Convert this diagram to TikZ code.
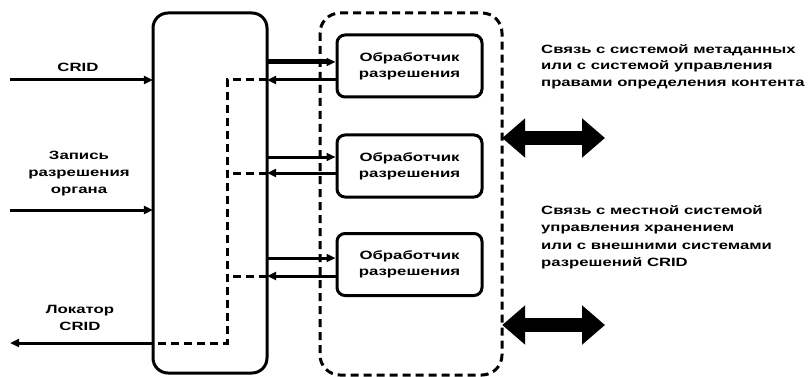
\documentclass[tikz,border=0pt]{standalone}
\usepackage{fontspec}
\setmainfont{Liberation Sans}[FakeStretch=1.4]
\newfontfamily\notefont{Liberation Sans}[FakeStretch=1.39]
\usetikzlibrary{arrows.meta}
\begin{document}
\begin{tikzpicture}[x=1pt,y=-1pt,
  lbl/.style={font=\bfseries\fontsize{12}{17}\selectfont, align=center, inner sep=0},
  note/.style={font=\notefont\bfseries\fontsize{12}{16.5}\selectfont, align=left, inner sep=0, anchor=north west},
  handler/.style={draw, line width=3pt, rounded corners=8pt, minimum width=145pt, minimum height=62pt, inner sep=0, font=\bfseries\fontsize{12}{16}\selectfont, align=center},
  sol/.style={line width=3pt},
  dsh/.style={line width=3pt, dash pattern=on 8pt off 5pt},
  tip/.style={-{Triangle[length=9pt,width=8pt]}},
  big/.style={line width=14pt, {Triangle[length=23pt,width=38pt]}-{Triangle[length=23pt,width=38pt]}}]
\useasboundingbox (0,0) rectangle (808,377);
% containers
\draw[line width=3pt, rounded corners=15pt] (153,13) rectangle (267,373);
\node[inner sep=0, minimum width=114pt, minimum height=360pt] (lb) at (210,193) {};
\draw[dsh, rounded corners=20pt] (320,13) rectangle (502,375);
\node[inner sep=0, minimum width=182pt, minimum height=362pt] (rb) at (411,194) {};
% handlers
\node[handler] (h1) at (409.5,66) {Обработчик\\разрешения};
\node[handler] (h2) at (409.5,166) {Обработчик\\разрешения};
\node[handler] (h3) at (409.5,264.5) {Обработчик\\разрешения};
% left inputs
\coordinate (in1) at (10,80);
\coordinate (in2) at (10,210);
\coordinate (out3) at (10,343);
\draw[sol,tip] (in1) -- (lb.west |- in1);
\draw[sol,tip] (in2) -- (lb.west |- in2);
\draw[sol,tip] (lb.west |- out3) -- (out3);
\node[lbl] (t1) at (78,67) {CRID};
\node[lbl] (t2) at (79,174) {Запись\\разрешения\\органа};
\node[lbl] (t3) at (80,318) {Локатор\\CRID};
% forward lines
\draw[line width=5pt,tip] (lb.east |- 0,62) -- (h1.west |- 0,62);
\draw[sol,tip] (lb.east |- 0,157) -- (h2.west |- 0,157);
\draw[sol,tip] (lb.east |- 0,258) -- (h3.west |- 0,258);
% return lines
\draw[sol,tip] (h1.west |- 0,80) -- (lb.east |- 0,80);
\draw[sol,tip] (h2.west |- 0,173) -- (lb.east |- 0,173);
\draw[sol,tip] (h3.west |- 0,276) -- (lb.east |- 0,276);
\coordinate (v1) at (227,80);
\coordinate (v2) at (227,343);
\draw[dsh] (lb.east |- v1) -- (v1) -- (v2) -- (lb.west |- v2);
\draw[dsh] (lb.east |- 0,173) -- (227,173);
\draw[dsh] (lb.east |- 0,276) -- (227,276);
% big arrows
\coordinate (e1) at (605,138);
\coordinate (e2) at (605,325);
\draw[big] (rb.east |- e1) -- (e1);
\draw[big] (rb.east |- e2) -- (e2);
% notes
\node[note] (n1) at (541,44) {Связь с системой метаданных\\или с системой управления\\правами определения контента};
\node[note, font=\notefont\bfseries\fontsize{12}{17.5}\selectfont] (n2) at (541,205) {Связь с местной системой\\управления хранением\\или с внешними системами\\разрешений CRID};
\end{tikzpicture}
\end{document}
